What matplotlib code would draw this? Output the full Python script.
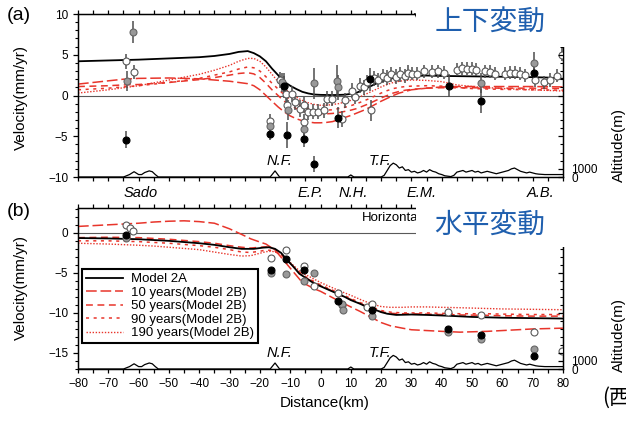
import matplotlib
matplotlib.use("Agg")
import matplotlib.pyplot as plt
from matplotlib.patches import Rectangle
from matplotlib.ticker import MultipleLocator, FixedLocator, FixedFormatter

plt.rcParams["font.family"] = ["Liberation Sans", "Noto Sans CJK JP", "DejaVu Sans"]

# ---------------- (a) vertical velocities ----------------
v_2a_x = [-80, -70, -60, -50, -40, -35, -30, -27, -24, -22, -20, -18, -16, -14, -12, -10, -8, -6, -4, -2, 0, 4, 8,
          10, 12, 14, 16, 18, 20, 22, 24, 26, 28, 30, 32, 35, 40, 50, 60, 70, 75, 80]
v_2a_y = [4.2, 4.3, 4.4, 4.55, 4.7, 4.85, 5.1, 5.35, 5.45, 5.2, 4.8, 4.2, 3.3, 2.5, 1.7, 1.2, 0.8, 0.45, 0.25, 0.12,
          0.08, 0.05, 0.1, 0.2, 0.35, 0.7, 1.05, 1.4, 1.7, 1.95, 2.15, 2.3, 2.35, 2.35, 2.4, 2.45, 2.4, 2.35, 2.3,
          2.25, 2.2, 2.05]

v_2b_x = [-80, -75, -70, -65, -60, -50, -40, -35, -30, -27, -24, -22, -20, -18, -16, -14, -12, -10, -8, -6, -4, -2,
          0, 2, 4, 6, 8, 10, 12, 14, 16, 18, 20, 22, 24, 26, 28, 30, 35, 40, 45, 50, 60, 70, 80]
v_10y = [1.4, 1.6, 1.8, 2.0, 2.1, 2.15, 2.05, 1.9, 1.75, 1.6, 1.45, 1.2, 0.7, 0.0, -0.7, -1.4, -2.0, -2.5, -2.85,
         -3.1, -3.25, -3.35, -3.35, -3.3, -3.2, -2.95, -2.7, -2.45, -2.15, -1.85, -1.5, -1.1, -0.7, -0.35, 0.0, 0.3,
         0.5, 0.7, 0.9, 1.05, 1.1, 1.1, 1.1, 1.1, 1.05]
v_50y = [1.1, 1.15, 1.2, 1.3, 1.35, 1.6, 1.95, 2.2, 2.5, 2.7, 2.8, 2.65, 2.2, 1.5, 0.7, 0.0, -0.7, -1.2, -1.6, -1.9,
         -2.1, -2.2, -2.25, -2.25, -2.2, -2.1, -1.95, -1.8, -1.6, -1.3, -1.0, -0.65, -0.3, 0.0, 0.3, 0.5, 0.65, 0.75,
         0.9, 0.95, 0.95, 0.95, 0.9, 0.9, 0.85]
v_90y = [0.7, 0.8, 0.9, 1.05, 1.2, 1.6, 2.1, 2.5, 2.9, 3.25, 3.5, 3.4, 3.0, 2.3, 1.5, 0.8, 0.1, -0.5, -1.0, -1.35,
         -1.6, -1.75, -1.8, -1.8, -1.75, -1.6, -1.45, -1.25, -1.0, -0.7, -0.4, -0.05, 0.3, 0.6, 0.85, 1.0, 1.1, 1.15,
         1.2, 1.15, 1.0, 0.85, 0.75, 0.7, 0.65]
v_190y = [0.3, 0.5, 0.7, 0.95, 1.2, 1.9, 2.6, 3.1, 3.7, 4.2, 4.55, 4.55, 4.2, 3.5, 2.6, 1.7, 0.9, 0.3, -0.2, -0.6,
          -0.9, -1.1, -1.2, -1.2, -1.1, -1.0, -0.8, -0.6, -0.35, 0.0, 0.35, 0.7, 1.05, 1.35, 1.6, 1.75, 1.85, 1.9,
          1.85, 1.7, 1.3, 1.1, 0.85, 0.7, 0.55]

v_white_x = [-64.2, -61.5, -16.6, -13.3, -11.9, -11.5, -11.1, -9.5, -8.4, -6.7, -5.6, -5.3, -4.2, -2.5, -0.7, 1.0,
             2.1, 3.7, 7.2, 8.1, 10.3, 11.4, 13.1, 14.2, 15.3, 16.7, 17.5, 19.0, 20.5, 22.0, 23.3, 24.8, 26.3, 27.8,
             29.0, 30.1, 31.8, 34.0, 36.7, 38.9, 40.6, 45.0, 46.6, 48.3, 49.9, 51.4, 54.3, 56.0, 57.6, 60.9, 62.6,
             64.2, 65.9, 67.5, 70.8, 73.6, 75.6, 78.0, 79.6]
v_white_y = [4.2, 2.9, -3.1, 1.9, 1.2, 0.2, -1.2, 0.2, -0.8, -1.6, -1.2, -3.3, -2.0, -2.0, -2.0, -1.8, -0.4, -0.4,
             -2.9, -0.6, 0.6, -0.2, 1.2, 1.0, 1.6, -1.8, 2.1, 1.9, 2.4, 2.2, 2.6, 2.3, 2.6, 2.4, 2.8, 2.65, 2.65, 3.0,
             2.9, 3.0, 2.8, 3.15, 3.35, 3.3, 3.3, 3.15, 2.95, 2.9, 2.65, 2.65, 2.8, 2.8, 2.65, 2.5, 1.9, 1.65, 1.9,
             2.45, 5.0]
v_white_e = [0.9, 0.9, 0.8, 1.0, 1.2, 1.2, 1.0, 1.0, 1.0, 1.0, 1.0, 1.0, 1.0, 0.9, 0.9, 0.9, 0.9, 0.9, 1.0, 0.9,
             0.9, 0.9, 0.9, 0.9, 0.9, 1.3, 0.9, 0.9, 0.9, 0.9, 0.9, 0.9, 0.9, 0.9, 0.9, 0.8, 0.8, 0.8, 0.8, 0.8, 0.8,
             0.8, 0.8, 0.8, 0.8, 0.8, 0.8, 0.8, 0.8, 0.8, 0.8, 0.8, 0.8, 0.8, 0.8, 0.8, 0.8, 0.8, 0.8]

v_gray_x = [-63.9, -61.8, -16.6, -12.8, -10.6, -5.3, -2.3, 5.4, 5.9, 53.0, 70.5]
v_gray_y = [1.8, 7.8, -3.7, 1.6, -1.8, -4.1, 1.5, 1.8, 1.0, 1.5, 4.0]
v_gray_e = [1.2, 1.4, 0.8, 1.2, 1.2, 0.9, 1.9, 2.0, 1.5, 1.2, 1.3]

v_black_x = [-64.2, -16.6, -12.2, -11.1, -5.3, -2.3, 5.9, 16.4, 42.5, 53.0, 70.5]
v_black_y = [-5.4, -4.7, 1.2, -4.9, -5.3, -8.4, -2.7, 2.0, 1.2, -0.7, 2.7]
v_black_e = [1.0, 0.8, 1.5, 1.6, 1.0, 1.0, 1.3, 1.4, 1.4, 1.5, 1.2]

# ---------------- (b) horizontal velocities ----------------
h_2a_x = [-80, -70, -60, -50, -40, -35, -30, -26, -22, -19, -17, -15, -13, -11, -9, -7, -5, -3, -1, 2, 5, 8, 10,
          13, 15, 18, 20, 22, 25, 30, 35, 42, 50, 60, 70, 80]
h_2a_y = [-0.65, -0.7, -0.8, -1.0, -1.3, -1.5, -1.8, -2.0, -2.0, -1.85, -1.8, -2.0, -2.5, -3.4, -4.2, -5.1, -5.6,
          -6.1, -6.5, -7.0, -7.5, -8.0, -8.4, -8.85, -9.2, -9.6, -9.9, -10.1, -10.25, -10.2, -10.25, -10.35, -10.5,
          -10.6, -10.65, -10.7]

h_2b_x = [-80, -70, -60, -55, -50, -45, -40, -35, -30, -26, -23, -20, -18, -16, -14, -12, -10, -8, -6, -4, -2, 0,
          3, 6, 10, 13, 16, 18, 20, 23, 27, 30, 35, 40, 46, 55, 60, 70, 80]
h_10y = [0.8, 1.0, 1.2, 1.35, 1.45, 1.5, 1.4, 1.2, 0.5, -0.2, -0.75, -1.15, -1.4, -1.9, -2.6, -3.5, -4.4, -5.3,
         -6.2, -6.6, -7.0, -7.3, -7.9, -8.5, -9.25, -9.8, -10.4, -10.8, -11.2, -11.6, -11.9, -12.1, -12.2, -12.3,
         -12.4, -12.3, -12.2, -12.0, -11.9]
h_50y = [-0.6, -0.55, -0.6, -0.7, -0.8, -0.95, -1.1, -1.3, -1.6, -1.8, -1.9, -1.8, -1.75, -1.9, -2.3, -3.0, -3.8,
         -4.6, -5.3, -5.8, -6.2, -6.6, -7.1, -7.7, -8.3, -8.8, -9.3, -9.6, -9.85, -10.05, -10.1, -10.1, -10.15,
         -10.2, -10.25, -10.3, -10.35, -10.4, -10.4]
h_90y = [-1.0, -1.0, -1.1, -1.2, -1.3, -1.45, -1.6, -1.8, -2.1, -2.4, -2.45, -2.3, -2.15, -2.2, -2.5, -3.1, -3.8,
         -4.6, -5.2, -5.7, -6.1, -6.5, -7.0, -7.5, -8.2, -8.7, -9.1, -9.4, -9.7, -9.9, -10.0, -10.0, -10.0, -10.05,
         -10.1, -10.1, -10.15, -10.2, -10.2]
h_190y = [-1.3, -1.4, -1.55, -1.65, -1.8, -1.95, -2.1, -2.4, -2.7, -2.9, -2.85, -2.55, -2.35, -2.3, -2.5, -3.0,
          -3.7, -4.4, -5.0, -5.4, -5.8, -6.2, -6.7, -7.2, -7.8, -8.3, -8.75, -9.0, -9.2, -9.3, -9.3, -9.25, -9.25,
          -9.3, -9.35, -9.45, -9.5, -9.55, -9.6]

h_white_x = [-64.2, -62.9, -61.7, -16.4, -11.3, -5.5, -2.3, 5.9, 7.0, 15.5, 16.9, 42.2, 53.0, 70.3, 79.7]
h_white_y = [1.0, 0.6, 0.25, -3.2, -2.2, -4.2, -6.6, -7.5, -9.0, -9.2, -8.9, -9.9, -10.3, -12.4, -14.8]
h_black_x = [-64.2, -16.4, -11.3, -5.5, 5.9, 16.9, 42.2, 53.0, 70.3]
h_black_y = [-0.3, -4.7, -3.3, -4.7, -8.5, -9.6, -12.0, -12.7, -15.4]
h_gray_x = [-64.2, -16.4, -11.3, -5.5, -2.3, 7.0, 7.3, 16.9, 42.2, 53.0, 70.3]
h_gray_y = [-0.7, -5.0, -5.1, -6.0, -5.0, -8.9, -9.6, -10.4, -12.4, -13.3, -14.5]

# ---------------- topography (m) ----------------
topo_x = [-80, -65, -63, -61.5, -60, -59, -58, -56.5, -55.5, -54.5, -53.5, -16.6, -15, -13.5, 9, 10, 11, 20, 21,
          22, 23, 24, 25, 26, 27, 28, 29, 30, 31, 32, 33, 34, 35, 36, 37, 38, 39, 40, 41, 42, 43, 44, 45, 46, 47,
          48, 49, 50, 51, 52, 53, 54, 55, 56, 57, 58, 59, 60, 61, 62, 63, 64, 65, 66, 67, 68, 69, 70, 71, 72, 74,
          76, 78, 80]
topo_h = [0, 0, 300, 650, 300, 300, 550, 750, 650, 300, 0, 0, 750, 0, 0, 250, 0, 0, 200, 800, 1400, 1700, 1500,
          1100, 1250, 800, 900, 600, 700, 500, 600, 800, 600, 900, 700, 600, 400, 300, 150, 100, 50, 200, 600, 700,
          800, 600, 700, 800, 600, 700, 500, 600, 700, 600, 500, 400, 500, 600, 700, 800, 1000, 1100, 900, 700,
          600, 500, 600, 500, 400, 350, 300, 300, 300, 300]

sites = ["Sado", "E.P.", "N.H.", "E.M.", "A.B."]
site_km = [-59.5, -3.4, 10.8, 33.5, 72.5]
faults = ["N.F.", "T.F."]
fault_km = [-13.5, 19.5]

legend_labels = ["Model 2A", "10 years(Model 2B)", "50 years(Model 2B)", "90 years(Model 2B)",
                 "190 years(Model 2B)"]

W, H = 626, 421
RED = "#e8352b"
BLUE = "#1f5fae"


def box(l, t, r, b):
    return [l / W, 1 - b / H, (r - l) / W, (b - t) / H]


def ftext(x, y, s, **kw):
    return fig.text(x / W, 1 - y / H, s, **kw)


def style_axes(ax, ymin, ymax, alt_top, alt_major):
    ax.set_xlim(-80, 80)
    ax.set_ylim(ymin, ymax)
    ax.xaxis.set_major_locator(MultipleLocator(10))
    ax.xaxis.set_minor_locator(MultipleLocator(5))
    ax.yaxis.set_major_locator(MultipleLocator(5))
    ax.yaxis.set_minor_locator(MultipleLocator(1))
    ax.tick_params(axis="x", which="both", direction="out", top=True, bottom=True, length=3.2, width=0.9)
    ax.tick_params(axis="y", which="major", direction="out", right=False, length=3.5, width=0.9, labelsize=8.5)
    ax.tick_params(axis="y", which="minor", direction="out", right=False, length=2, width=0.8)
    for s in ax.spines.values():
        s.set_linewidth(1.0)
    ax.axhline(0, color="0.35", lw=0.8, zorder=1)

    alt = ax.twinx()
    alt.set_ylim(0, alt_top)
    alt.yaxis.set_major_locator(FixedLocator(alt_major))
    alt.yaxis.set_major_formatter(FixedFormatter(["0", "1000"] + [""] * (len(alt_major) - 2)))
    alt.yaxis.set_minor_locator(MultipleLocator(1000))
    alt.tick_params(axis="y", which="major", direction="in", length=3.5, width=0.9, labelsize=8.5, pad=6)
    alt.tick_params(axis="y", which="minor", direction="in", length=2, width=0.8)
    alt.plot(topo_x, topo_h, color="black", lw=0.9)
    return alt


def model_lines(ax, x2a, y2a, x2b, s10, s50, s90, s190):
    ax.plot(x2a, y2a, color="black", lw=1.3, label=legend_labels[0], zorder=4)
    ax.plot(x2b, s10, color=RED, lw=1.1, dashes=(7, 2.5), label=legend_labels[1], zorder=3)
    ax.plot(x2b, s50, color=RED, lw=1.1, dashes=(4.5, 3), label=legend_labels[2], zorder=3)
    ax.plot(x2b, s90, color=RED, lw=1.1, dashes=(2, 3), label=legend_labels[3], zorder=3)
    ax.plot(x2b, s190, color=RED, lw=1.0, dashes=(1, 1.2), label=legend_labels[4], zorder=3)


fig = plt.figure(figsize=(W / 100, H / 100), dpi=100)

# ---- (a) ----
ax_v = fig.add_axes(box(78, 14, 563, 177))
style_axes(ax_v, -10, 10, 20000, [0, 1000, 5000, 10000, 15000])
ax_v.tick_params(axis="x", labelbottom=False)
model_lines(ax_v, v_2a_x, v_2a_y, v_2b_x, v_10y, v_50y, v_90y, v_190y)
pt = dict(fmt="o", ms=5, mew=0.8, ecolor="0.3", elinewidth=1.1, capsize=0, zorder=5)
ax_v.errorbar(v_white_x, v_white_y, yerr=v_white_e, mfc="white", mec="0.35", **pt)
ax_v.errorbar(v_gray_x, v_gray_y, yerr=v_gray_e, mfc="0.6", mec="0.4", **pt)
ax_v.errorbar(v_black_x, v_black_y, yerr=v_black_e, mfc="black", mec="black", **pt)

# ---- (b) ----
ax_h = fig.add_axes(box(78, 208, 563, 369))
style_axes(ax_h, -17, 3.1, 20100, [0, 1000, 2000, 7000, 12000, 17000])
ax_h.tick_params(axis="x", which="major", labelsize=8.5, pad=3)
model_lines(ax_h, h_2a_x, h_2a_y, h_2b_x, h_10y, h_50y, h_90y, h_190y)
mk = dict(marker="o", ms=5, mew=0.8, ls="none", zorder=5)
ax_h.plot(h_white_x, h_white_y, mfc="white", mec="0.35", **mk)
ax_h.plot(h_gray_x, h_gray_y, mfc="0.6", mec="0.4", **mk)
ax_h.plot(h_black_x, h_black_y, mfc="black", mec="black", **mk)
leg = ax_h.legend(loc="upper left", bbox_to_anchor=(0.008, 0.621), borderaxespad=0, fontsize=9.5,
                  handlelength=2.8, handletextpad=0.6, labelspacing=0.1, borderpad=0.3,
                  fancybox=False, framealpha=1, edgecolor="black")
leg.get_frame().set_linewidth(1.5)
leg.set_zorder(6)

# ---- labels ----
ftext(19, 16, "(a)", fontsize=14, ha="center", va="center")
ftext(19, 212, "(b)", fontsize=14, ha="center", va="center")
ftext(21, 97, "Velocity(mm/yr)", fontsize=11, rotation=90, ha="center", va="center")
ftext(21, 288, "Velocity(mm/yr)", fontsize=11, rotation=90, ha="center", va="center")
ftext(619, 145, "Altitude(m)", fontsize=11, rotation=90, ha="center", va="center")
ftext(619, 335, "Altitude(m)", fontsize=11, rotation=90, ha="center", va="center")
ftext(325, 403, "Distance(km)", fontsize=11, ha="center", va="center")
for name, km in zip(sites, site_km):
    ax_v.annotate(name, (km, 0), xycoords=("data", "axes fraction"), xytext=(0, -16),
                  textcoords="offset pixels", ha="center", va="center", fontsize=10.5, style="italic")
for ax in (ax_v, ax_h):
    for name, km in zip(faults, fault_km):
        ax.annotate(name, (km, 0), xycoords=("data", "axes fraction"), xytext=(0, 16),
                    textcoords="offset pixels", ha="center", va="center", fontsize=10.5, style="italic")

# original English panel titles, mostly hidden under the Japanese overlay boxes
clip = Rectangle((0, 0), 416 / W, 1, transform=fig.transFigure)
for t in (ftext(414, 19, "Vertical", fontsize=9.5, ha="left", va="center"),
          ftext(362, 218, "Horizontal", fontsize=9.5, ha="left", va="center")):
    t.set_clip_path(clip)

for top, bot in [(0, 47), (201, 247)]:
    fig.add_artist(Rectangle((416 / W, 1 - bot / H), (W - 416) / W, (bot - top) / H,
                             transform=fig.transFigure, fc="white", ec="none", zorder=10))
ftext(490, 22, "上下変動", fontsize=20, color=BLUE, ha="center", va="center",
      family=["Noto Sans CJK JP"], zorder=11)
ftext(490, 225, "水平変動", fontsize=20, color=BLUE, ha="center", va="center",
      family=["Noto Sans CJK JP"], zorder=11)
ftext(602, 398, "(西", fontsize=15, ha="left", va="center", family=["Noto Sans CJK JP"], zorder=11)

fig.savefig("out.png", dpi=100)
